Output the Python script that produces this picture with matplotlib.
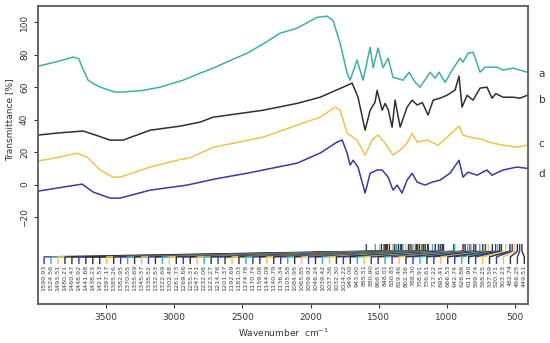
import numpy as np
import matplotlib
matplotlib.use("Agg")
import matplotlib.pyplot as plt

# ---- data ----
a_x = [4000, 3870, 3742, 3700, 3676, 3632, 3590, 3544, 3434, 3375, 3229, 3104, 2935, 2810, 2715, 2600, 2466, 2350, 2224, 2099, 1952, 1879, 1835, 1783, 1732, 1710, 1659, 1615, 1563, 1541, 1505, 1468, 1431, 1395, 1321, 1277, 1233, 1196, 1123, 1087, 1057, 1013, 962, 904, 882, 845, 808, 757, 720, 632, 588, 515, 410]
a_y = [72.9, 75.5, 78.5, 77.5, 72.3, 64.3, 62.0, 60.0, 57.0, 57.0, 58.0, 60.0, 64.3, 68.6, 71.7, 76.0, 80.9, 86.5, 93.2, 96.3, 103.0, 103.7, 101.0, 87.0, 68.6, 64.3, 76.6, 64.3, 84.6, 72.0, 84.0, 72.0, 77.8, 66.0, 64.3, 69.2, 63.0, 60.0, 69.2, 65.5, 69.2, 63.0, 70.5, 77.8, 75.4, 80.9, 81.5, 69.2, 72.3, 72.3, 70.5, 71.7, 69.2]

b_x = [4000, 3850, 3669, 3560, 3471, 3375, 3177, 2957, 2810, 2715, 2348, 2099, 1930, 1761, 1695, 1652, 1600, 1563, 1527, 1512, 1475, 1453, 1430, 1402, 1380, 1343, 1292, 1255, 1218, 1180, 1138, 1101, 1050, 999, 940, 911, 889, 852, 808, 757, 706, 669, 640, 588, 515, 464, 410]
b_y = [30.5, 31.8, 33.0, 30.0, 27.4, 27.4, 33.5, 36.0, 38.5, 41.5, 45.8, 50.0, 53.8, 60.0, 62.5, 53.8, 33.5, 45.8, 50.8, 58.0, 45.8, 50.0, 46.0, 35.4, 52.0, 35.4, 47.7, 52.0, 49.0, 50.5, 42.8, 52.0, 53.2, 55.0, 58.2, 66.8, 47.7, 55.0, 52.0, 59.4, 60.0, 53.2, 56.0, 53.8, 53.8, 53.2, 55.0]

c_x = [4000, 3850, 3713, 3640, 3544, 3449, 3397, 3177, 2957, 2884, 2715, 2348, 2099, 1930, 1820, 1783, 1732, 1659, 1600, 1549, 1505, 1453, 1395, 1343, 1292, 1255, 1218, 1145, 1065, 999, 911, 882, 830, 750, 662, 588, 486, 410]
c_y = [14.5, 16.8, 19.4, 17.0, 9.0, 4.6, 4.6, 10.8, 15.5, 16.5, 23.0, 29.2, 36.6, 41.5, 47.7, 45.8, 31.7, 27.4, 18.2, 27.4, 30.5, 25.5, 18.2, 21.2, 25.5, 31.7, 26.2, 27.4, 24.3, 29.2, 36.0, 30.5, 29.2, 28.0, 25.5, 24.3, 23.0, 24.3]

d_x = [4000, 3850, 3676, 3595, 3471, 3397, 3177, 2906, 2700, 2466, 2099, 1930, 1805, 1768, 1732, 1710, 1688, 1652, 1600, 1563, 1512, 1475, 1431, 1395, 1365, 1329, 1292, 1255, 1218, 1160, 1109, 1050, 977, 911, 882, 845, 779, 706, 669, 588, 486, 410]
d_y = [-4.0, -2.0, 0.3, -4.6, -8.3, -8.3, -3.4, -0.3, 3.5, 7.0, 13.2, 19.4, 26.2, 27.4, 19.4, 12.0, 15.0, 10.8, -5.2, 7.0, 9.0, 9.0, 4.6, -3.4, -0.3, -5.2, 2.8, 7.0, 1.5, -0.3, 1.5, 2.8, 7.0, 15.0, 4.6, 7.7, 5.8, 9.0, 5.8, 9.0, 10.8, 10.0]

peaks = [1590.93, 1524.56, 1493.51, 1480.21, 1460.47, 1448.92, 1441.68, 1438.23, 1421.53, 1397.17,
         1385.26, 1382.95, 1370.55, 1355.69, 1345.37, 1338.52, 1332.53, 1322.69, 1302.48, 1281.73,
         1269.66, 1255.31, 1247.51, 1232.08, 1223.27, 1214.76, 1201.37, 1192.69, 1181.03, 1174.78,
         1170.74, 1159.08, 1144.09, 1140.79, 1136.34, 1105.58, 1084.95, 1065.85, 1059.92, 1046.24,
         1039.42, 1037.36, 1032.30, 1024.22, 949.00, 943.00, 885.51, 880.90, 866.65, 848.01,
         830.85, 819.46, 802.36, 788.30, 758.91, 736.61, 717.22, 695.41, 666.53, 642.74,
         626.86, 611.90, 599.74, 568.25, 537.59, 520.71, 503.23, 482.74, 466.25, 449.51]
peak_curve = ['d', 'a', 'c', 'b', 'b', 'd', 'b', 'b', 'b', 'c', 'b', 'd', 'a', 'b', 'c', 'd', 'b', 'a',
              'c', 'b', 'd', 'b', 'c', 'a', 'b', 'd', 'b', 'c', 'b', 'a', 'd', 'b', 'c', 'b', 'd', 'a',
              'b', 'c', 'd', 'b', 'a', 'c', 'b', 'd', 'b', 'a', 'c', 'd', 'b', 'a', 'd', 'c', 'b', 'd',
              'a', 'b', 'd', 'c', 'b', 'd', 'a', 'b', 'd', 'c', 'b', 'd', 'c', 'b', 'd', 'b']

colors = {'a': '#3bb0a8', 'b': '#303030', 'c': '#f2c24a', 'd': '#3a3a98'}
series = [('a', a_x, a_y), ('b', b_x, b_y), ('c', c_x, c_y), ('d', d_x, d_y)]
label_y = {'a': 68, 'b': 52, 'c': 25, 'd': 6.5}

fig = plt.figure(figsize=(5.5, 3.43), dpi=100)
ax = fig.add_axes([0.069, 0.1137, 0.891, 0.869])

for name, xs, ys in series:
    ax.plot(xs, ys, color=colors[name], lw=1.1)
    ax.text(1.022, (label_y[name] + 73.5) / 183.5, name, transform=ax.transAxes,
            fontsize=7.5, va='center', ha='left', color='#333333')

# peak label connectors and texts
lx = np.linspace(3955, 432, len(peaks))
for i, (w, cname) in enumerate(zip(peaks, peak_curve)):
    col = colors[cname]
    ax.plot([lx[i], lx[i], w, w], [-48.5, -44.5, -41.0, -37.0], color=col, lw=1.0)
    ax.text(lx[i], -49.2, f"{w:.2f}", rotation=90, ha='center', va='top',
            fontsize=4.6, color='#404040')

ax.set_xlim(4000, 405)
ax.set_ylim(-73.5, 110)
ax.set_xticks([3500, 3000, 2500, 2000, 1500, 1000, 500])
ax.set_yticks([100, 80, 60, 40, 20, 0, -20])
ax.tick_params(axis='both', labelsize=6.5, colors='#333333', length=3, width=0.8)
for lab in ax.get_yticklabels():
    lab.set_rotation(90)
    lab.set_va('center')
for sp in ax.spines.values():
    sp.set_color('#5a5a5a')
    sp.set_linewidth(1.3)
ax.set_xlabel('Wavenumber  cm$^{-1}$', fontsize=6.5, color='#333333', labelpad=3)
ax.set_ylabel('Transmittance [%]', fontsize=6.5, color='#333333')
ax.yaxis.set_label_coords(-0.048, 0.62)

fig.savefig('out.png', dpi=100)
